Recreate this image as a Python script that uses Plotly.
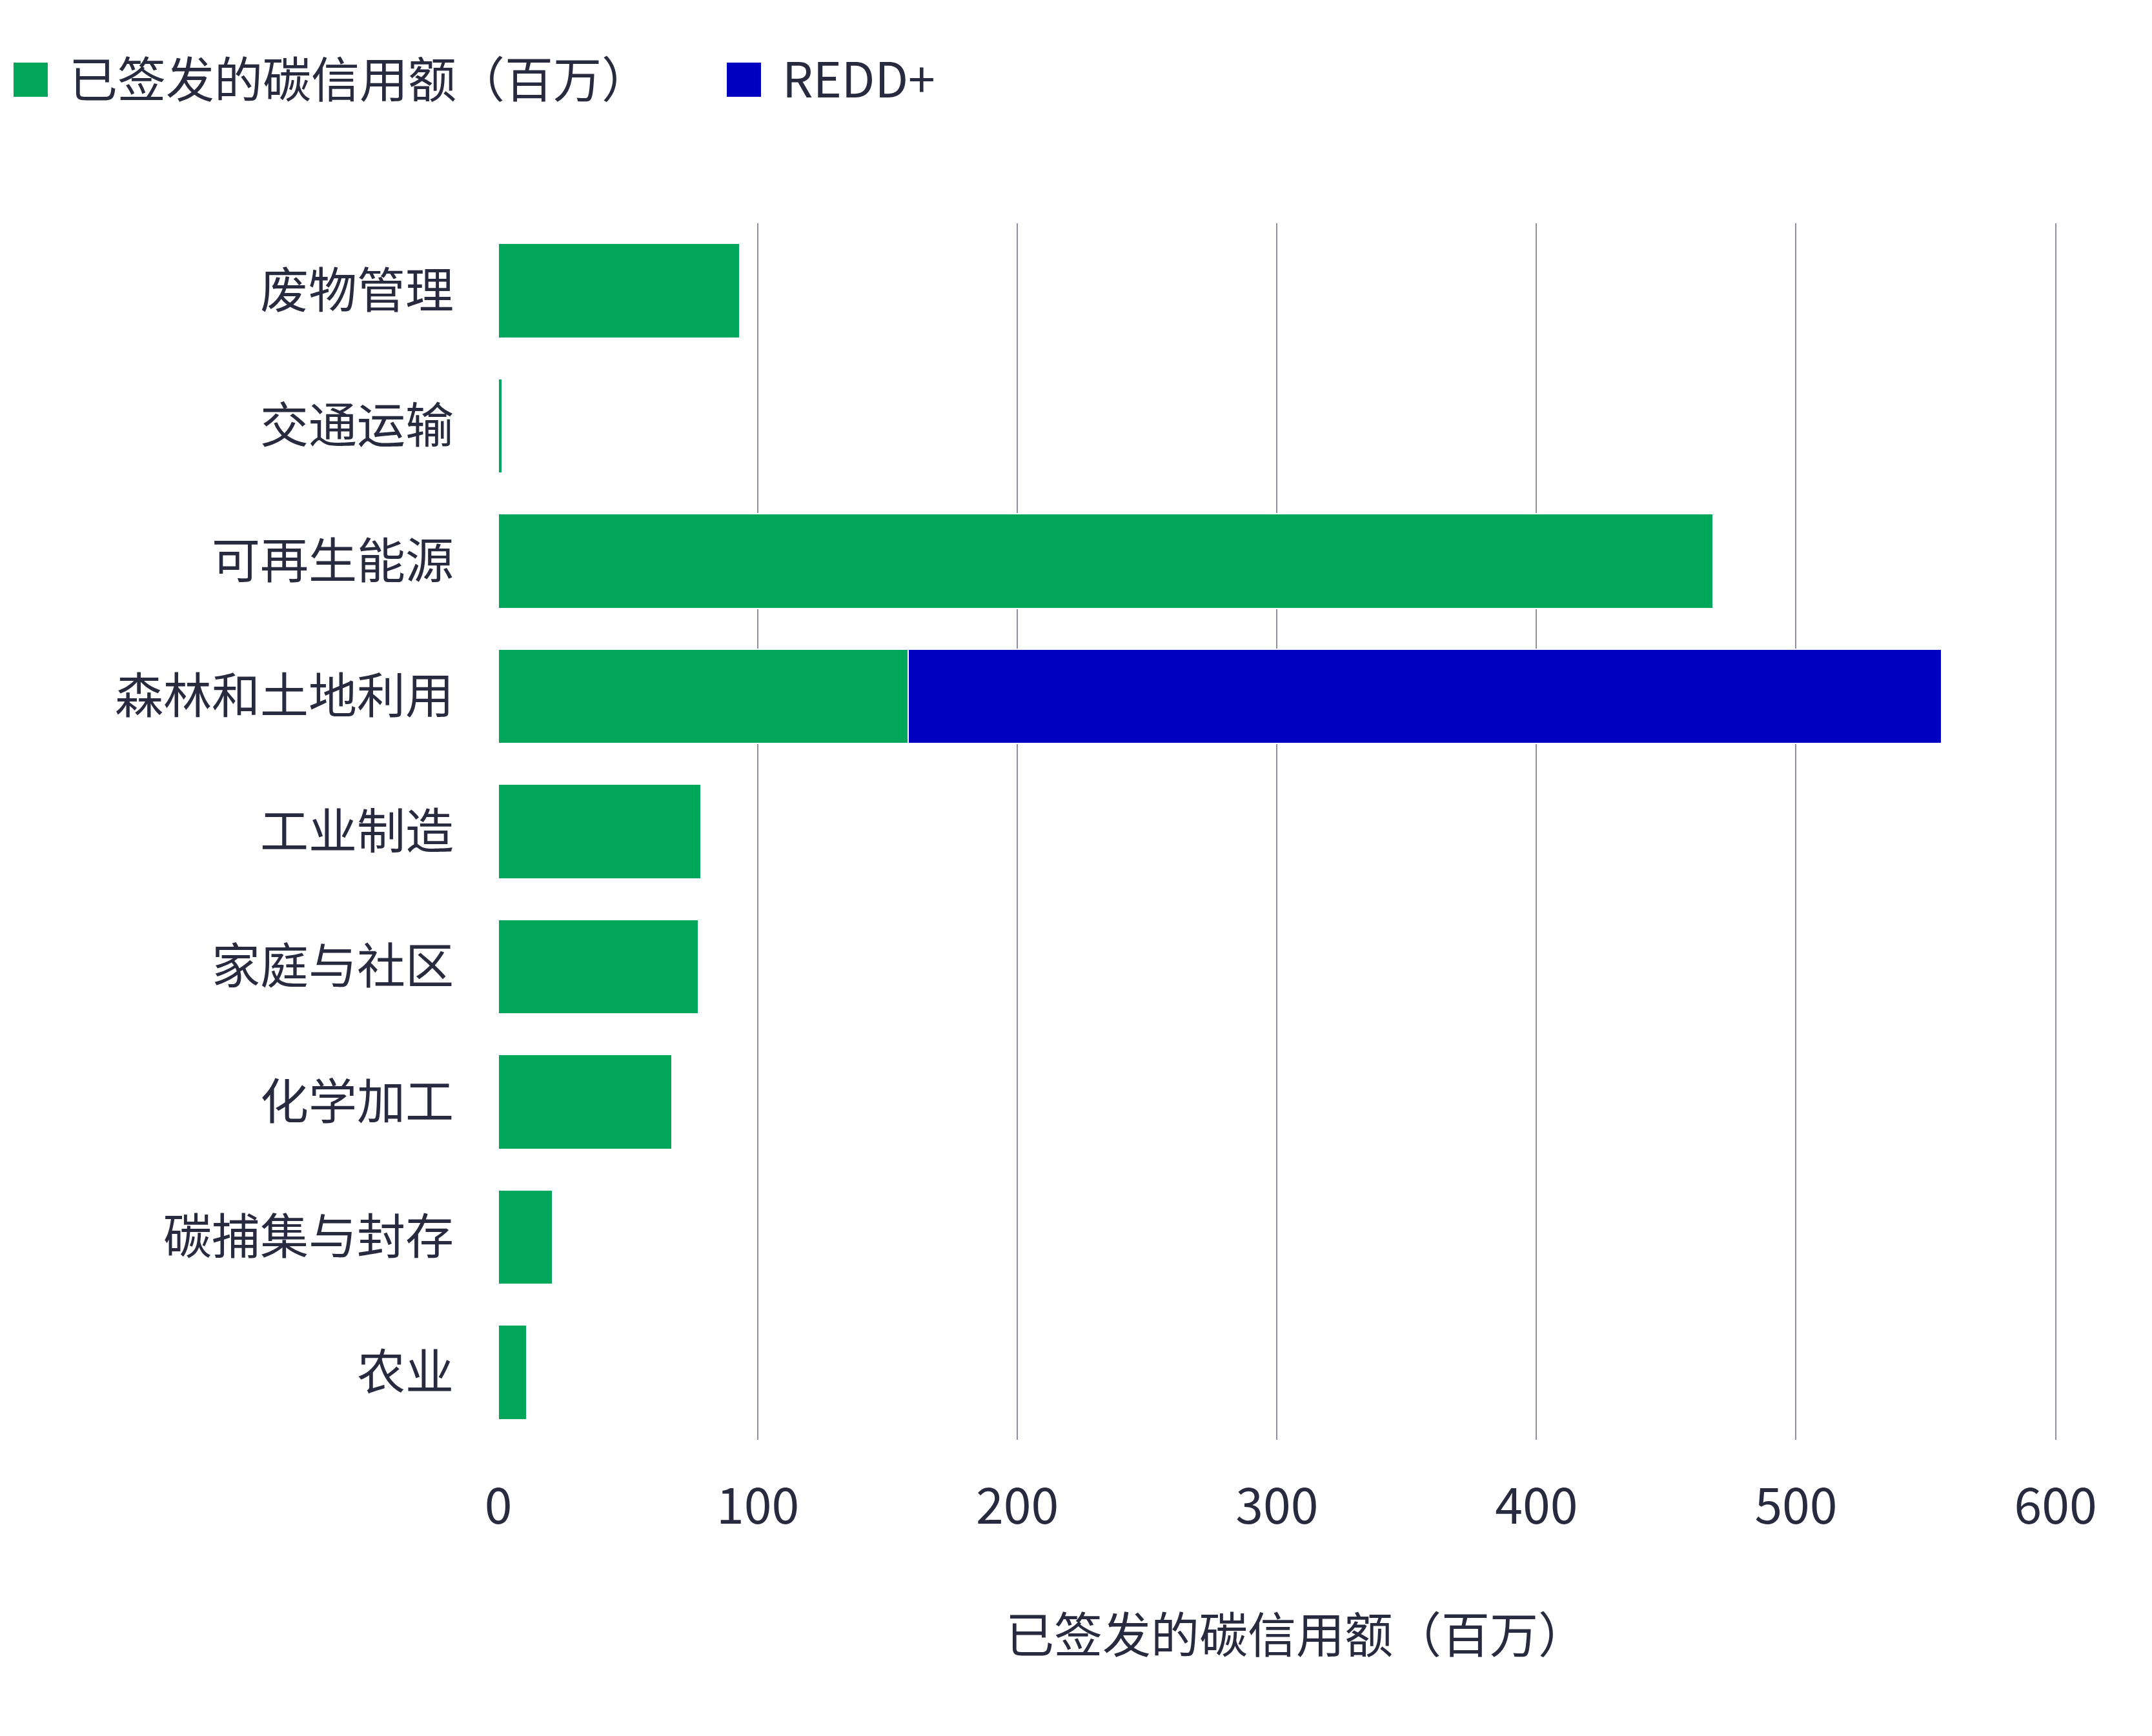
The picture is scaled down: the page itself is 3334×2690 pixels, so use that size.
import plotly.graph_objects as go

# ---- data ----
categories = ["废物管理", "交通运输", "可再生能源", "森林和土地利用", "工业制造",
              "家庭与社区", "化学加工", "碳捕集与封存", "农业"]
issued_credits = [93, 1.5, 468, 158, 78, 77, 67, 21, 11]
redd_credits = [None, None, None, 398, None, None, None, None, None]
x_ticks = [0, 100, 200, 300, 400, 500, 600]
series_names = ["已签发的碳信用额（百万）", "REDD+"]
x_title = "已签发的碳信用额（百万）"

# ---- style ----
W, H = 3334, 2690
ML, MR, MT, MB = 772, 147, 346, 459
X_MAX = 600.6
GREEN = "#00A65A"
BLUE = "#0000C0"
TEXT = "#282B3F"
GRID = "#8E90A3"
FONT = "Noto Sans CJK SC"
FS = 75

pw, ph = W - ML - MR, H - MT - MB


def px_x(X):
    return (X - ML) / pw


def px_y(Y):
    return (H - MB - Y) / ph


fig = go.Figure()
fig.add_trace(go.Bar(y=categories, x=issued_credits, orientation="h", name=series_names[0],
                     marker=dict(color=GREEN, line=dict(color="white", width=2)),
                     showlegend=False))
fig.add_trace(go.Bar(y=categories, x=redd_credits, orientation="h", name=series_names[1],
                     marker=dict(color=BLUE, line=dict(color="white", width=2)),
                     showlegend=False))

# manual legend (large square swatches)
legend_items = [(series_names[0], GREEN, 21, 105), (series_names[1], BLUE, 1126, 1210)]
shapes = []
annotations = []
for name, col, sx, tx in legend_items:
    shapes.append(dict(type="rect", xref="paper", yref="paper",
                       x0=px_x(sx), x1=px_x(sx + 53), y0=px_y(150), y1=px_y(97),
                       fillcolor=col, line=dict(width=0)))
    annotations.append(dict(text=name, xref="paper", yref="paper", x=px_x(tx), y=px_y(118),
                            xanchor="left", yanchor="middle", showarrow=False,
                            font=dict(family=FONT, size=FS, color=TEXT)))

annotations.append(dict(text=x_title, xref="paper", yref="paper", x=px_x(2008), y=px_y(2528),
                        xanchor="center", yanchor="middle", showarrow=False,
                        font=dict(family=FONT, size=FS, color=TEXT)))

fig.update_layout(
    width=W, height=H,
    margin=dict(l=ML, r=MR, t=MT, b=MB, autoexpand=False),
    barmode="stack", bargap=0.3,
    plot_bgcolor="white", paper_bgcolor="white",
    font=dict(family=FONT, size=FS, color=TEXT),
    shapes=shapes, annotations=annotations,
    xaxis=dict(range=[0, X_MAX], tickvals=x_ticks, showgrid=True, gridcolor=GRID, gridwidth=1.5,
               zeroline=False, showline=False, ticks="", automargin=False,
               tickfont=dict(family=FONT, size=77, color=TEXT), ticklabelstandoff=52),
    yaxis=dict(categoryorder="array", categoryarray=categories, autorange="reversed",
               showgrid=False, zeroline=False, showline=False, ticks="", automargin=False,
               tickfont=dict(family=FONT, size=FS, color=TEXT), ticklabelstandoff=68),
)

fig.write_html("out.html")
